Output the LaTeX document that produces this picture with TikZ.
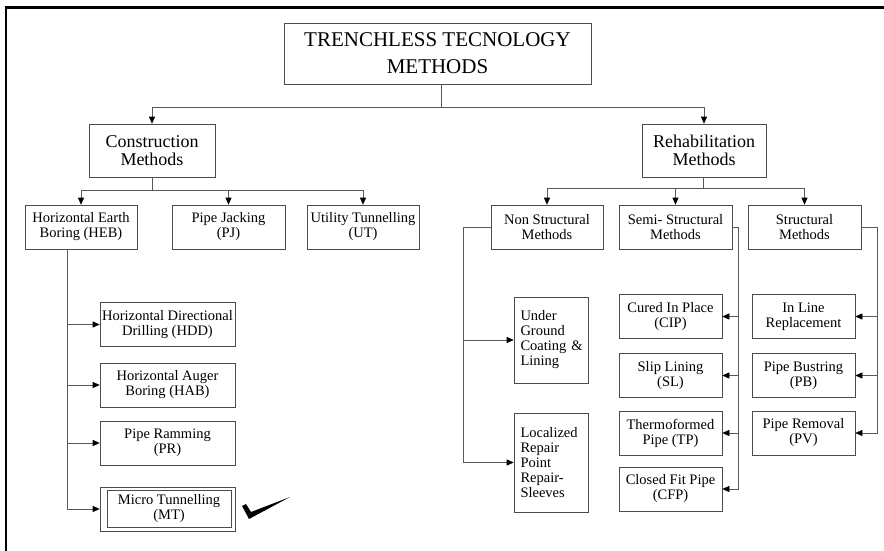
\documentclass[tikz,border=0pt]{standalone}
\usepackage{fontspec}
\setmainfont{Liberation Serif}
\usetikzlibrary{arrows.meta, positioning, calc}

\begin{document}
\begin{tikzpicture}[x=1pt, y=-1pt,
  box/.style={draw=black!70, line width=0.6pt, align=center, inner sep=1pt,
    minimum height=44, font=\fontsize{14.5}{15}\selectfont},
  big/.style={box, minimum height=53, font=\fontsize{18}{18}\selectfont},
  tall/.style={box, align=left, text width=61, inner xsep=6.5},
  line/.style={draw=black!65, line width=0.6pt},
  arr/.style={line, -{Triangle[length=7pt, width=6pt, black]}}]
\useasboundingbox (0,0) rectangle (884,551);
% frame
\draw[line width=2.5pt] (6,551) -- (6,7.5) -- (884,7.5);

% top levels
\node[box, minimum width=307, minimum height=61, font=\fontsize{21}{27}\selectfont] (title) at (437.5,53.5) {TRENCHLESS TECNOLOGY\\METHODS};
\node[big, minimum width=126] (cons) at (152,150.5) {Construction\\Methods};
\node[big, minimum width=124] (rehab) at (704,150.5) {Rehabilitation\\Methods};

% second row
\node[box, minimum width=112] (heb) at (81,227) {Horizontal Earth\\Boring (HEB)};
\node[box, minimum width=113] (pj) at (228.5,227) {Pipe Jacking\\(PJ)};
\node[box, minimum width=112] (ut) at (363,227) {Utility Tunnelling\\(UT)};
\node[box, minimum width=112] (ns) at (547,227) {Non Structural\\Methods};
\node[box, minimum width=113] (semi) at (675.5,227) {Semi- Structural\\Methods};
\node[box, minimum width=113] (str) at (804.5,227) {Structural\\Methods};

% HEB methods
\node[box, minimum width=135] (hdd) at (167.5,324.5) {Horizontal Directional\\Drilling (HDD)};
\node[box, minimum width=135] (hab) at (167.5,385) {Horizontal Auger\\Boring (HAB)};
\node[box, minimum width=135] (pr) at (167.5,443) {Pipe Ramming\\(PR)};
\node[box, minimum width=135] (mt) at (167.5,509) {};
\node[box, minimum width=124, minimum height=37] (mtin) at (169,508.5) {Micro Tunnelling\\(MT)};
\fill (242,506) -- (246,504) -- (251,512) -- (290,497) -- (249,519) -- cycle;

% non structural
\node[tall, minimum height=86] (ug) at (551,340) {Under\\Ground\\\mbox{Coating \&}\\Lining};
\node[tall, minimum height=99] (lr) at (551,462.5) {Localized\\Repair\\Point\\Repair-\\Sleeves};

% semi structural
\node[box, minimum width=103] (cip) at (670.5,316.5) {Cured In Place\\(CIP)};
\node[box, minimum width=103] (sl) at (670.5,375.5) {Slip Lining\\(SL)};
\node[box, minimum width=103] (tp) at (670.5,433) {Thermoformed\\Pipe (TP)};
\node[box, minimum width=103] (cfp) at (670.5,489) {Closed Fit Pipe\\(CFP)};

% structural
\node[box, minimum width=103] (ilr) at (803.5,316.5) {In Line\\Replacement};
\node[box, minimum width=103] (pb) at (803.5,375.5) {Pipe Bustring\\(PB)};
\node[box, minimum width=103] (pv) at (803.5,433) {Pipe Removal\\(PV)};

% connectors
\coordinate (tj) at (441,107);
\draw[line] (tj |- title.south) -- (tj);
\draw[arr] (tj) -| (cons);
\draw[arr] (tj) -| (rehab);

\coordinate (cj) at (152,190);
\draw[line] (cons) -- (cj);
\foreach \n in {heb,pj,ut}
  \draw[arr] (cj) -| (\n);

\coordinate (rj) at (703,188);
\draw[line] (rj |- rehab.south) -- (rj);
\foreach \n in {ns,semi,str}
  \draw[arr] (rj) -| (\n);

\coordinate (hj) at (67,0);
\draw[arr] (hj |- heb.south) |- (mt.west);
\foreach \n in {hdd,hab,pr}
  \draw[arr] (hj |- \n.west) -- (\n.west);

\coordinate (nj) at (463,0);
\draw[arr] (ns.west) -| (nj |- lr.west) -- (lr.west);
\draw[arr] (nj |- ug.west) -- (ug.west);

\coordinate (sj) at (738,0);
\draw[arr] (semi.east) -| (sj |- cfp.east) -- (cfp.east);
\foreach \n in {cip,sl,tp}
  \draw[arr] (sj |- \n.east) -- (\n.east);

\coordinate (rt) at (877,0);
\draw[arr] (str.east) -| (rt |- pv.east) -- (pv.east);
\foreach \n in {ilr,pb}
  \draw[arr] (rt |- \n.east) -- (\n.east);
\end{tikzpicture}
\end{document}
